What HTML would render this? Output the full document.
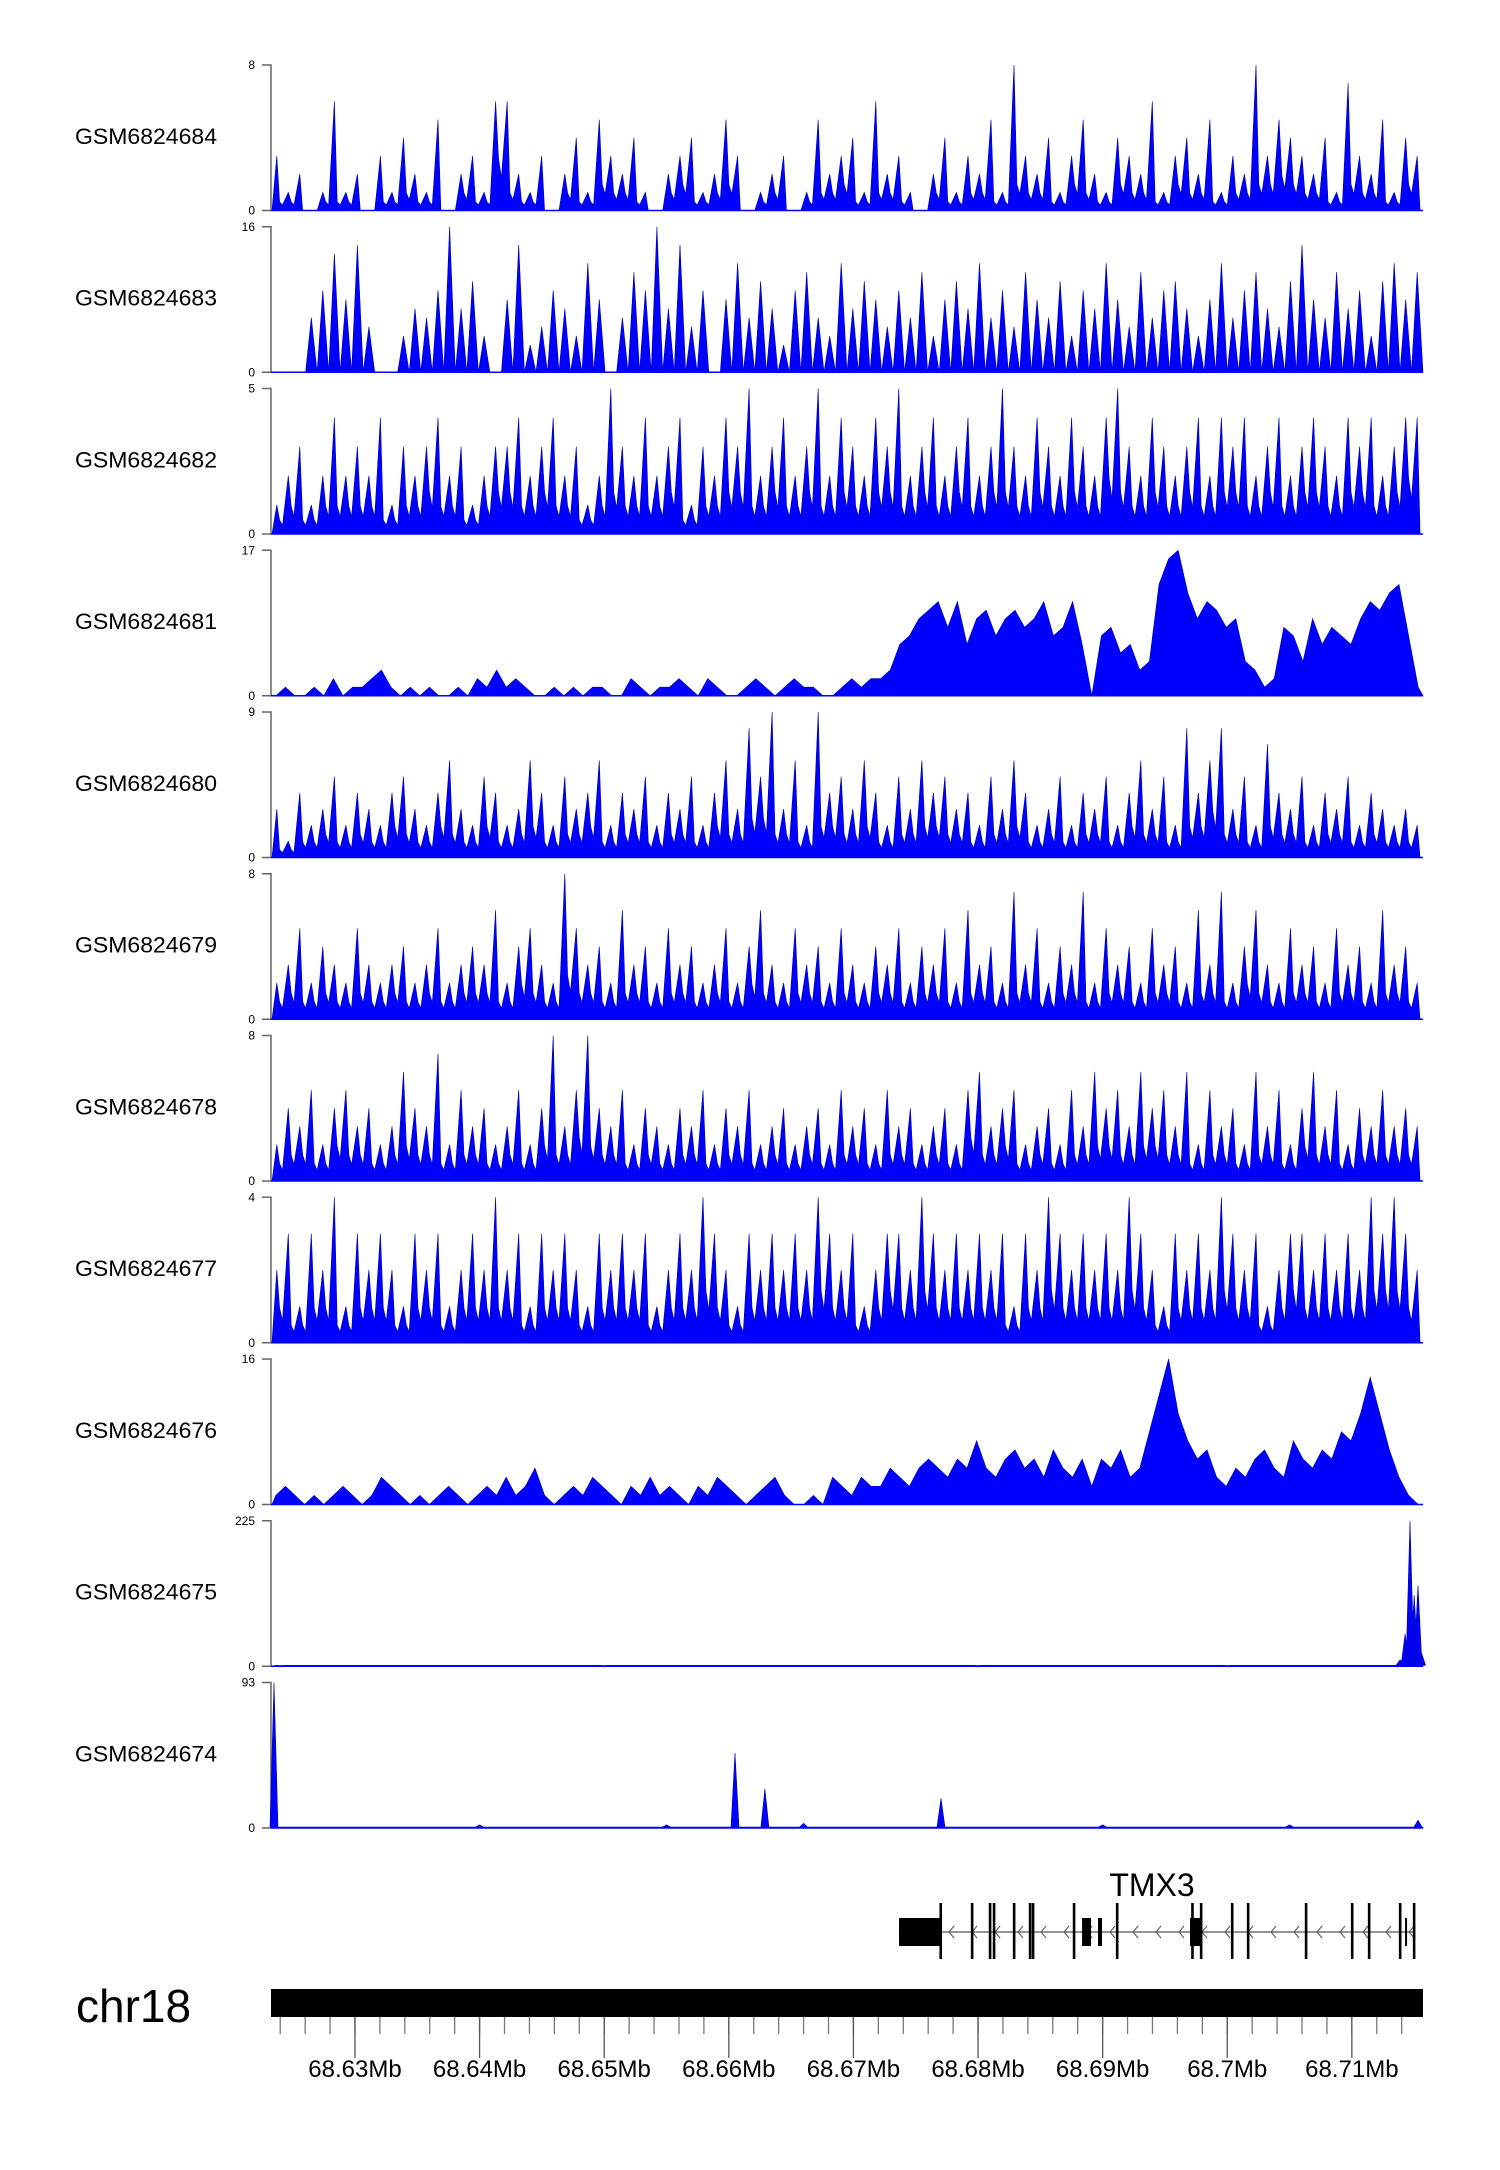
<!DOCTYPE html>
<html><head><meta charset="utf-8"><style>
html,body{margin:0;padding:0;background:#fff;}
svg{display:block;}
text{font-family:"Liberation Sans",Arial,sans-serif;}
</style></head>
<body>
<svg id="chart" width="1500" height="2170" viewBox="0 0 1500 2170" xmlns="http://www.w3.org/2000/svg">
<rect width="1500" height="2170" fill="#fff"/>
</svg>
<script>
const trackNames=["GSM6824684","GSM6824683","GSM6824682","GSM6824681","GSM6824680","GSM6824679","GSM6824678","GSM6824677","GSM6824676","GSM6824675","GSM6824674"];
const trackMax=[8,16,5,17,9,8,8,4,16,225,93];
const v684=[3,1,2,0,1,6,1,2,0,3,1,4,2,1,5,0,2,3,1,6,6,2,1,3,0,2,4,1,5,3,2,4,1,0,2,3,4,1,2,5,3,0,1,2,3,0,1,5,2,3,4,1,6,2,3,1,0,2,4,1,3,2,5,1,8,3,2,4,1,3,5,2,1,4,3,2,6,1,3,4,2,5,1,3,2,8,3,5,4,3,2,4,1,7,3,2,5,1,4,3];
const v683=[0,0,0,6,9,13,8,14,5,0,0,4,7,6,9,16,7,10,4,0,8,14,3,5,9,7,4,12,8,0,6,11,9,16,7,14,5,9,0,8,12,6,10,7,3,9,11,6,4,12,7,10,8,5,9,6,11,4,8,10,7,12,6,9,5,11,8,6,10,4,9,7,12,8,5,11,6,9,10,7,4,8,12,6,9,11,7,5,10,14,8,6,11,7,9,4,10,12,8,11];
const v682=[1,2,3,1,2,4,2,3,2,4,1,3,2,3,4,2,3,1,2,3,3,4,2,3,4,2,3,1,2,5,3,2,4,2,3,4,1,3,2,4,3,5,2,3,4,2,3,5,2,4,3,2,4,3,5,2,3,4,2,3,4,2,3,5,3,2,4,3,2,4,3,2,4,5,3,2,4,3,2,3,4,2,4,3,4,2,3,4,2,3,4,3,2,4,3,4,2,3,4,4];
const v681=[0,1,0,0,1,0,2,0,1,1,2,3,1,0,1,0,1,0,0,1,0,2,1,3,1,2,1,0,0,1,0,1,0,1,1,0,0,2,1,0,1,1,2,1,0,2,1,0,0,1,2,1,0,1,2,1,1,0,0,1,2,1,2,2,3,6,7,9,10,11,8,11,6,9,10,7,9,10,8,9,11,7,8,11,6,0,7,8,5,6,3,4,13,16,17,12,9,11,10,8,9,4,3,1,2,8,7,4,9,6,8,7,6,9,11,10,12,13,7,1];
const v680=[3,1,4,2,3,5,2,4,3,2,4,5,3,2,4,6,3,2,5,4,2,3,6,4,2,5,3,4,6,2,4,3,5,2,4,3,5,2,4,6,3,8,5,9,3,6,2,9,4,5,3,6,4,2,5,3,6,4,5,3,4,2,5,3,6,4,2,3,5,2,4,3,5,2,4,6,3,5,2,8,4,6,8,3,5,2,7,4,3,5,2,4,3,5,2,4,3,2,3,2];
const v679=[2,3,5,2,4,3,2,5,3,2,3,4,2,3,5,2,3,4,3,6,2,4,5,3,2,8,5,3,4,2,6,3,4,2,5,3,4,2,3,5,2,4,6,3,2,5,3,4,2,5,3,2,4,3,5,2,4,3,5,2,6,3,4,2,7,3,5,2,4,3,7,2,5,3,4,2,5,3,4,2,6,3,7,2,4,6,3,2,5,3,4,2,5,3,4,2,6,3,4,2];
const v678=[2,4,3,5,2,4,5,3,4,2,3,6,4,3,7,2,5,3,4,2,3,5,2,4,8,3,5,8,4,3,5,2,4,3,2,4,3,5,2,4,3,5,2,3,4,2,3,4,2,5,3,4,2,5,3,4,2,3,4,2,5,6,3,4,5,2,3,4,2,5,3,6,4,5,3,6,4,5,3,6,2,5,3,4,2,6,3,5,2,4,6,3,5,2,4,3,5,3,4,3];
const v677=[2,3,1,3,2,4,1,3,2,3,2,1,3,2,3,1,2,3,2,4,2,3,1,3,2,3,2,1,3,2,3,2,3,1,2,3,2,4,3,2,1,3,2,3,2,3,2,4,3,2,3,1,2,3,3,2,4,3,2,3,2,3,2,3,1,3,2,4,3,2,3,2,3,2,4,3,2,1,3,2,3,2,4,3,2,3,1,2,3,3,2,3,2,3,2,4,3,4,3,2];
const v676=[1,2,1,0,1,0,1,2,1,0,1,3,2,1,0,1,0,1,2,1,0,1,2,1,3,1,2,4,1,0,1,2,1,3,2,1,0,2,1,3,1,2,1,0,2,1,3,2,1,0,1,2,3,1,0,0,1,0,3,2,1,3,2,2,4,3,2,4,5,4,3,5,4,7,4,3,5,6,4,5,3,6,4,3,5,2,5,4,6,3,4,8,12,16,10,7,5,6,3,2,4,3,5,6,4,3,7,5,4,6,5,8,7,10,14,10,6,3,1,0];
const pos675=[68.62400,68.65000,68.68000,68.70000,68.71387,68.71427,68.71467,68.71500,68.71531,68.71560];
const val675=[1,1,1,1,10,50,225,110,125,20];
const pos674=[68.62350,68.64000,68.65500,68.66050,68.66290,68.66600,68.67703,68.69000,68.70500,68.71531];
const val674=[93,2,2,48,25,3,19,2,2,5];
const trackData=[v684,v683,v682,v681,v680,v679,v678,v677,v676,null,null];
const trackMode=["spike","wedge","spike","fill","spike","spike","spike","spike","fill","peak","peak"];
const tickMb=[68.63,68.64,68.65,68.66,68.67,68.68,68.69,68.70,68.71];
const tickLabels=["68.63Mb","68.64Mb","68.65Mb","68.66Mb","68.67Mb","68.68Mb","68.69Mb","68.7Mb","68.71Mb"];
const exonStart=[68.67366,68.67700,68.67952,68.68096,68.68128,68.68289,68.68417,68.68441,68.68770,68.68835,68.68963,68.69116,68.69701,68.69720,68.69790,68.70039,68.70167,68.70632,68.71002,68.71138,68.71387,68.71427,68.71499];
const exonEnd  =[68.67700,68.67719,68.67952,68.68096,68.68128,68.68289,68.68417,68.68441,68.68770,68.68907,68.68995,68.69116,68.69798,68.69720,68.69790,68.70039,68.70167,68.70632,68.71002,68.71138,68.71387,68.71441,68.71499];
const exonKind =["box","line","line","line","line","line","line","line","line","box","box","line","box","line","line","line","line","line","line","line","line","box","line"];

const NS="http://www.w3.org/2000/svg";
const svg=document.getElementById('chart');
const X0=271,X1=1423,MB0=68.62326,MB1=68.71571;
function xs(mb){return X0+(mb-MB0)/(MB1-MB0)*(X1-X0);}
function mk(tag,attrs,parent){const e=document.createElementNS(NS,tag);for(const k in attrs)e.setAttribute(k,attrs[k]);(parent||svg).appendChild(e);return e;}
const TOP0=65,STEP=161.75,H=145.5;
for(let t=0;t<trackNames.length;t++){
  const top=TOP0+t*STEP,bot=top+H,max=trackMax[t];
  const ys=v=>bot-Math.min(v,max)/max*H;
  const g=mk('g',{});
  
  
  const lab=mk('text',{x:75,y:top+H/2+6,'font-size':22,fill:'#000',textLength:142,lengthAdjust:'spacingAndGlyphs'},g);
  lab.textContent=trackNames[t];
  
  
  const ax=mk('path',{d:`M262 ${top}H271V${bot}H262`,stroke:'#666',fill:'none','stroke-width':1.5},g);
  
  
  const tt=mk('text',{x:255,y:top+4,'font-size':12,'text-anchor':'end'},g);tt.textContent=String(max);
  
  
  const tb=mk('text',{x:255,y:bot+4,'font-size':12,'text-anchor':'end'},g);tb.textContent='0';
  
  
  let pts=[];
  const mode=trackMode[t];
  if(mode==='peak'){
    const P=t===9?pos675:pos674,V=t===9?val675:val674;
    pts.push([X0+1,bot]);
    for(let i=0;i<P.length;i++){const x=xs(P[i]);pts.push([x-4,bot-1],[x,ys(V[i])],[x+4,bot-1]);}
    pts.push([X1,bot-1],[X1,bot]);
  } else {
    const d=trackData[t],n=d.length,w=(X1-X0)/n;
    pts.push([X0+1,bot]);
    for(let i=0;i<n;i++){
      const xc=X0+(i+0.5)*w;
      if(mode==='spike'){
        pts.push([xc,ys(d[i])]);
        const nx=i+1<n?d[i+1]:0;
        const val=0.3*Math.min(d[i],nx);
        pts.push([X0+(i+0.75)*w,ys(val*1.6)],[X0+(i+1)*w,ys(val)]);
      }
      else if(mode==='wedge'){pts.push([xc,ys(d[i])],[X0+(i+1)*w,bot]);}
      else pts.push([xc,ys(d[i])]);
    }
    pts.push([X1,bot]);
  }
  const area=mk('path',{d:'M'+pts.map(p=>p[0].toFixed(1)+' '+p[1].toFixed(1)).join('L')+'Z',fill:'#0000ff',stroke:'#0000b0','stroke-width':0.6},g);
  
  
  const bl=mk('line',{x1:X0,x2:X1,y1:bot,y2:bot,stroke:'#0000ff','stroke-width':1.5},g);
  
  
}
const gg=mk('g',{});


const gx0=xs(exonStart[0]),gx1=xs(exonEnd[exonEnd.length-1]);
const il=mk('line',{x1:gx0,x2:gx1,y1:1932,y2:1932,stroke:'#555','stroke-width':1.3},gg);


for(let x=gx0+50;x<gx1-5;x+=23){
  const a=mk('path',{d:`M${x+5} 1926L${x} 1932L${x+5} 1938`,stroke:'#555',fill:'none','stroke-width':1},gg);
  
  
}
for(let i=0;i<exonStart.length;i++){
  const a=xs(exonStart[i]),b=xs(exonEnd[i]);
  let e;
  if(exonKind[i]==='box') e=mk('rect',{x:a,y:1918,width:Math.max(b-a,2),height:28,fill:'#000'},gg);
  else e=mk('rect',{x:a-1.2,y:1903,width:2.6,height:56,fill:'#000'},gg);
  
  
}
const gl=mk('text',{x:1152,y:1896,'font-size':32,'text-anchor':'middle'},gg);gl.textContent='TMX3';


const ct=mk('text',{x:76,y:2022,'font-size':46},svg);ct.textContent='chr18';


const cb=mk('rect',{x:X0,y:1989,width:X1-X0,height:28,fill:'#000'});


for(let k=0;k<48;k++){
  const mb=68.624+k*0.002;const x=xs(mb);if(x<X0||x>X1)continue;
  const mt=mk('line',{x1:x,x2:x,y1:2017,y2:2034,stroke:'#777','stroke-width':1.3});
  
  
}
for(let i=0;i<tickMb.length;i++){
  const x=xs(tickMb[i]);
  const t=mk('line',{x1:x,x2:x,y1:2017,y2:2058,stroke:'#555','stroke-width':1.3});
  
  
  const l=mk('text',{x:x,y:2077,'font-size':24,'text-anchor':'middle'});l.textContent=tickLabels[i];
  
  
}
</script>
</body></html>
